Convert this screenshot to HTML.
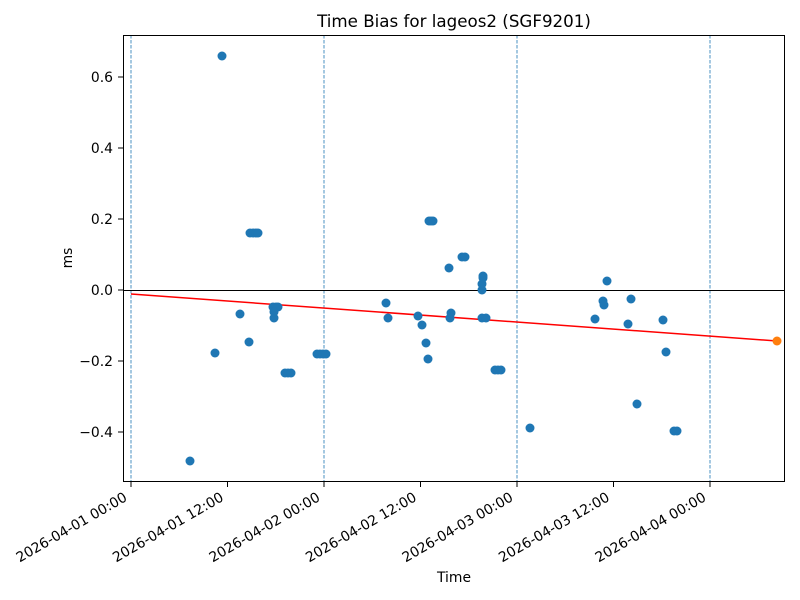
<!DOCTYPE html>
<html><head><meta charset="utf-8"><style>body{margin:0;background:#fff}svg{display:block;font-family:"DejaVu Sans","Liberation Sans",sans-serif}</style></head>
<body>
<svg width="800" height="600" viewBox="0 0 800 600">
<rect width="800" height="600" fill="#fff"/>
<text x="454" y="27" font-size="16.7" text-anchor="middle">Time Bias for lageos2 (SGF9201)</text>
<g stroke="#1f77b4" stroke-width="0.8" stroke-dasharray="3.5,1.5">
<line x1="131" y1="35" x2="131" y2="481"/><line x1="324" y1="35" x2="324" y2="481"/>
<line x1="517" y1="35" x2="517" y2="481"/><line x1="710" y1="35" x2="710" y2="481"/>
</g>
<line x1="123" y1="290.5" x2="785" y2="290.5" stroke="#000" stroke-width="1"/>
<line x1="131" y1="294" x2="777" y2="341" stroke="red" stroke-width="1.5"/>
<g fill="#1f77b4">
<circle cx="190" cy="461" r="4.5"/><circle cx="215" cy="353" r="4.5"/><circle cx="222" cy="56" r="4.5"/>
<circle cx="240" cy="314" r="4.5"/><circle cx="249" cy="342" r="4.5"/>
<circle cx="250" cy="233" r="4.5"/><circle cx="253" cy="233" r="4.5"/><circle cx="256" cy="233" r="4.5"/><circle cx="258" cy="233" r="4.5"/>
<circle cx="274" cy="318" r="4.5"/><circle cx="273" cy="307" r="4.5"/><circle cx="276" cy="307" r="4.5"/><circle cx="278" cy="307" r="4.5"/><circle cx="274" cy="312" r="4.5"/>
<circle cx="285" cy="373" r="4.5"/><circle cx="288" cy="373" r="4.5"/><circle cx="291" cy="373" r="4.5"/>
<circle cx="317" cy="354" r="4.5"/><circle cx="320" cy="354" r="4.5"/><circle cx="323" cy="354" r="4.5"/><circle cx="326" cy="354" r="4.5"/>
<circle cx="386" cy="303" r="4.5"/><circle cx="388" cy="318" r="4.5"/><circle cx="418" cy="316" r="4.5"/><circle cx="422" cy="325" r="4.5"/>
<circle cx="426" cy="343" r="4.5"/><circle cx="428" cy="359" r="4.5"/>
<circle cx="429" cy="221" r="4.5"/><circle cx="431" cy="221" r="4.5"/><circle cx="433" cy="221" r="4.5"/>
<circle cx="449" cy="268" r="4.5"/><circle cx="450" cy="318" r="4.5"/><circle cx="451" cy="313" r="4.5"/>
<circle cx="462" cy="257" r="4.5"/><circle cx="465" cy="257" r="4.5"/>
<circle cx="482" cy="318" r="4.5"/><circle cx="486" cy="318" r="4.5"/>
<circle cx="482" cy="290" r="4.5"/><circle cx="482" cy="284" r="4.5"/><circle cx="483" cy="278" r="4.5"/><circle cx="483" cy="276" r="4.5"/>
<circle cx="495" cy="370" r="4.5"/><circle cx="498" cy="370" r="4.5"/><circle cx="501" cy="370" r="4.5"/>
<circle cx="530" cy="428" r="4.5"/><circle cx="595" cy="319" r="4.5"/><circle cx="603" cy="301" r="4.5"/><circle cx="604" cy="305" r="4.5"/>
<circle cx="607" cy="281" r="4.5"/><circle cx="628" cy="324" r="4.5"/><circle cx="631" cy="299" r="4.5"/><circle cx="637" cy="404" r="4.5"/>
<circle cx="663" cy="320" r="4.5"/><circle cx="666" cy="352" r="4.5"/><circle cx="674" cy="431" r="4.5"/><circle cx="677" cy="431" r="4.5"/>
</g>
<circle cx="777" cy="341" r="4.5" fill="#ff7f0e"/>
<rect x="123.5" y="35.5" width="661" height="446" fill="none" stroke="#000" stroke-width="1"/>
<g stroke="#000" stroke-width="1">
<line x1="118" y1="77" x2="123" y2="77"/><line x1="118" y1="148" x2="123" y2="148"/><line x1="118" y1="219" x2="123" y2="219"/>
<line x1="118" y1="290" x2="123" y2="290"/><line x1="118" y1="361" x2="123" y2="361"/><line x1="118" y1="432" x2="123" y2="432"/>
<line x1="131" y1="482" x2="131" y2="487"/><line x1="227.5" y1="482" x2="227.5" y2="487"/><line x1="324" y1="482" x2="324" y2="487"/>
<line x1="420.5" y1="482" x2="420.5" y2="487"/><line x1="517" y1="482" x2="517" y2="487"/><line x1="613.5" y1="482" x2="613.5" y2="487"/><line x1="710" y1="482" x2="710" y2="487"/>
</g>
<g font-size="13.9" text-anchor="end">
<text x="113" y="82">0.6</text><text x="113" y="153">0.4</text><text x="113" y="224">0.2</text>
<text x="113" y="295">0.0</text><text x="113" y="366">−0.2</text><text x="113" y="437">−0.4</text>
</g>
<g font-size="13.9" text-anchor="end">
<text transform="translate(128,500) rotate(-30)">2026-04-01 00:00</text>
<text transform="translate(224.5,500) rotate(-30)">2026-04-01 12:00</text>
<text transform="translate(321,500) rotate(-30)">2026-04-02 00:00</text>
<text transform="translate(417.5,500) rotate(-30)">2026-04-02 12:00</text>
<text transform="translate(514,500) rotate(-30)">2026-04-03 00:00</text>
<text transform="translate(610.5,500) rotate(-30)">2026-04-03 12:00</text>
<text transform="translate(707,500) rotate(-30)">2026-04-04 00:00</text>
</g>
<text x="454" y="582" font-size="13.9" text-anchor="middle">Time</text>
<text transform="translate(72,258) rotate(-90)" font-size="13.9" text-anchor="middle">ms</text>
</svg>
</body></html>
